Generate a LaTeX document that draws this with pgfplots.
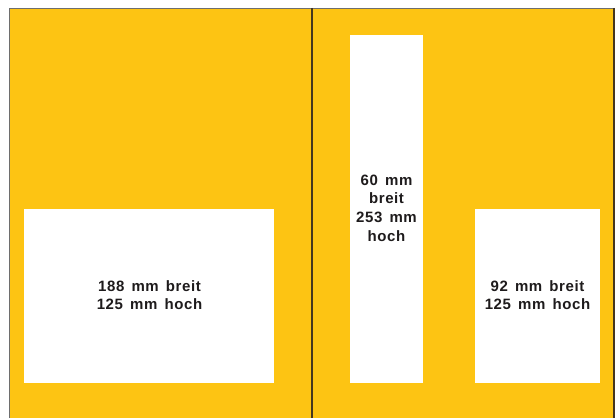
\documentclass[border=0pt]{standalone}
\usepackage{pgfplots}
\pgfplotsset{compat=1.18}
\usepackage{fontspec}
\setmainfont{Liberation Sans}[LetterSpace=4,WordSpace=1.5]
\definecolor{gelb}{RGB}{253,196,19}
\definecolor{rand}{RGB}{110,110,110}
\definecolor{dunkel}{RGB}{70,55,30}
\definecolor{schrift}{RGB}{30,27,28}
\begin{document}
\begin{tikzpicture}
\begin{axis}[
  width=616bp, height=418bp, scale only axis,
  xmin=0, xmax=616, ymin=0, ymax=418, y dir=reverse,
  hide axis, clip=false,
]
% full canvas extent
\addplot[draw=none, forget plot] coordinates {(0,0) (616,418)};
% yellow sheet
\addplot[fill=gelb, draw=none] coordinates {(9.5,8.5) (614,8.5) (614,418) (9.5,418)} --cycle;
% white panels
\addplot[fill=white, draw=none] coordinates {(24,209) (274,209) (274,383) (24,383)} --cycle;
\addplot[fill=white, draw=none] coordinates {(350,35) (423,35) (423,383) (350,383)} --cycle;
\addplot[fill=white, draw=none] coordinates {(475,209) (600,209) (600,383) (475,383)} --cycle;
% border lines
\addplot[draw=rand, line width=1.6bp] coordinates {(9.5,418) (9.5,8.5) (613,8.5)};
\addplot[draw=dunkel, line width=1.6bp] coordinates {(614,8) (614,418)};
\addplot[draw=dunkel, line width=1.4bp] coordinates {(312,8) (312,418)};
% labels
\node[font=\fontsize{15bp}{18bp}\selectfont\bfseries, text=schrift, align=center] at (axis cs:149.5,295) {188 mm breit\\125 mm hoch};
\node[font=\fontsize{15bp}{18.7bp}\selectfont\bfseries, text=schrift, align=center] at (axis cs:386.5,208) {60 mm\\breit\\253 mm\\hoch};
\node[font=\fontsize{15bp}{18bp}\selectfont\bfseries, text=schrift, align=center] at (axis cs:537.5,295) {92 mm breit\\125 mm hoch};
\end{axis}
\end{tikzpicture}
\end{document}
